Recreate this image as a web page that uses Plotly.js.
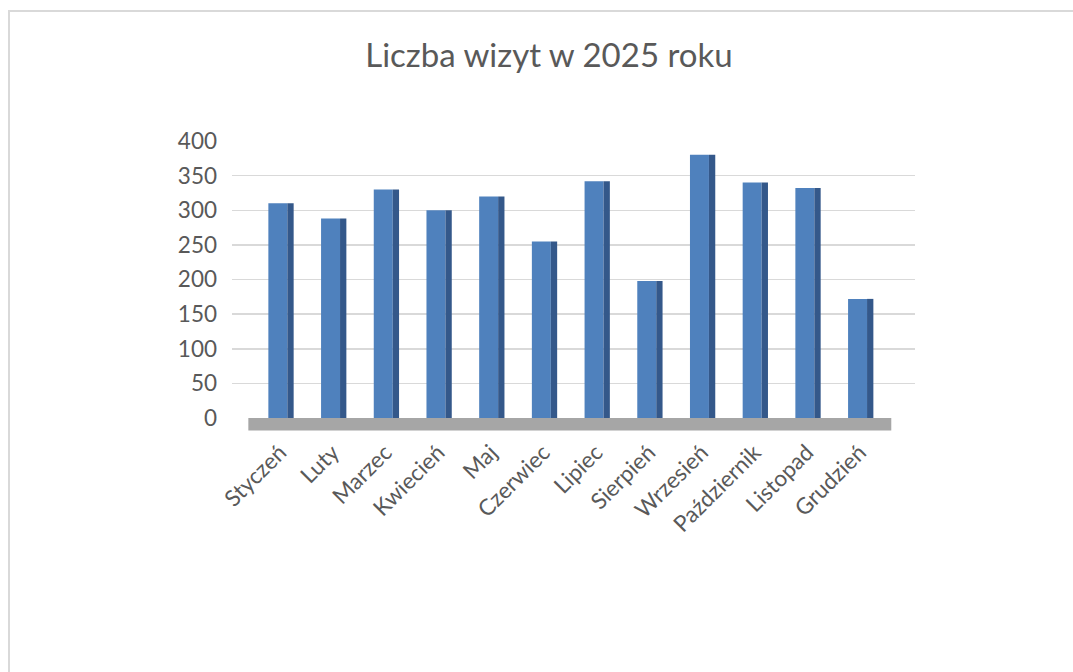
<!DOCTYPE html>
<html>
<head>
<meta charset="utf-8">
<script src="https://cdn.plot.ly/plotly-3.0.1.min.js"></script>
<style>
  html, body { margin: 0; padding: 0; background: #ffffff; overflow: hidden; }
  #chart { width: 1073px; height: 672px; }
  #frame { position: absolute; left: 8px; top: 10px; width: 1100px; height: 700px;
           border-left: 2px solid #d9d9d9; border-top: 2px solid #d9d9d9; pointer-events: none; }
</style>
</head>
<body>
<div id="chart"></div>
<div id="frame"></div>
<script>
const months = ["Styczeń", "Luty", "Marzec", "Kwiecień", "Maj", "Czerwiec",
                "Lipiec", "Sierpień", "Wrzesień", "Październik", "Listopad", "Grudzień"];
const visits = [310, 288, 330, 300, 320, 255, 342, 198, 380, 340, 332, 172];
const yTicks = [0, 50, 100, 150, 200, 250, 300, 350, 400];

const idx = months.map((m, i) => i);

const front = {
  type: 'bar', x: idx, y: visits,
  width: 0.36, offset: -0.22,
  marker: { color: '#4f81bd', line: { width: 0 } },
  hoverinfo: 'skip', showlegend: false
};
const side = {
  type: 'bar', x: idx, y: visits,
  width: 0.12, offset: 0.14,
  marker: { color: '#34588a', line: { width: 0 } },
  hoverinfo: 'skip', showlegend: false
};

const layout = {
  width: 1073, height: 672,
  margin: { l: 232, r: 158, t: 141, b: 254, pad: 0 },
  paper_bgcolor: '#ffffff', plot_bgcolor: '#ffffff',
  font: { family: 'Lato, "Open Sans", sans-serif', color: '#595959' },
  title: {
    text: 'Liczba wizyt w 2025 roku',
    font: { size: 33, color: '#595959', family: 'Lato, "Open Sans", sans-serif' },
    xref: 'container', x: 0.5116, xanchor: 'center',
    yref: 'container', y: 0.917, yanchor: 'middle'
  },
  barmode: 'overlay',
  xaxis: {
    range: [-0.91, 12.05],
    tickmode: 'array', tickvals: idx, ticktext: months,
    tickangle: -45, tickfont: { size: 22.5, color: '#595959' },
    showgrid: false, zeroline: false, showline: false, ticks: '',
    ticklabelstandoff: 16, fixedrange: true
  },
  yaxis: {
    range: [0, 400],
    tickmode: 'array', tickvals: yTicks,
    tickfont: { size: 22.5, color: '#595959' },
    showgrid: true, gridcolor: '#d9d9d9', gridwidth: 1.5,
    zeroline: false, showline: false, ticks: '',
    ticklabelstandoff: 14, fixedrange: true
  },
  shapes: [{
    type: 'rect', layer: 'below',
    xref: 'x', x0: -0.6, x1: 11.6,
    yref: 'paper', y0: -0.045, y1: 0,
    fillcolor: '#a6a6a6', line: { width: 0 }
  }]
};

Plotly.newPlot('chart', [front, side], layout, { staticPlot: true, displayModeBar: false });
</script>
</body>
</html>
